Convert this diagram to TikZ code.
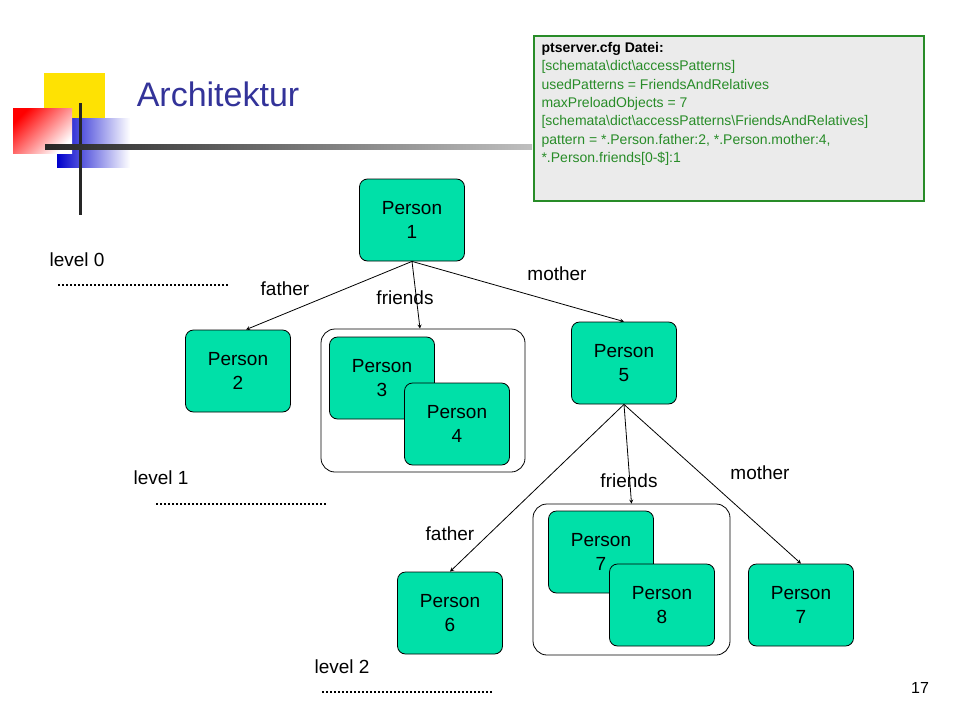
\documentclass[tikz,border=0pt]{standalone}
\usepackage{fontspec}
\setmainfont{Liberation Sans}
\usetikzlibrary{positioning}
\definecolor{pgreen}{RGB}{0,224,168}
\definecolor{titleblue}{RGB}{51,51,153}
\definecolor{cfggreen}{RGB}{40,140,40}
\definecolor{boxgray}{RGB}{235,235,235}
\tikzstyle{person}=[draw=black,thick,fill=pgreen,rounded corners=8pt,minimum width=105pt,minimum height=82pt,align=center,font=\fontsize{19}{24}\selectfont,inner sep=0pt]
\tikzstyle{group}=[draw=black,thick,rounded corners=14pt]
\tikzstyle{rel}=[->,>=stealth,thick]
\tikzstyle{lbl}=[font=\fontsize{19}{22}\selectfont]
\tikzstyle{level}=[dotted,line width=2pt]
\begin{document}
\begin{tikzpicture}[x=1pt,y=-1pt]
\useasboundingbox (0,0) rectangle (960,720);
% logo and title
\fill[yellow!85!orange] (44,73) rectangle (105,118);
\shade[left color=blue!80!black,right color=white] (57,118) rectangle (130,167);
\shade[left color=white,right color=red,shading angle=225] (13,108) rectangle (72,153);
\draw[line width=3pt,black!85] (80,103) -- (80,215);
\shade[left color=black!85,right color=black!25] (45,144) rectangle (532,149);
\node[text=titleblue,font=\fontsize{34}{40}\selectfont] (title) at (218,94) {Architektur};
% config box
\node[draw=cfggreen,line width=1.5pt,fill=boxgray,minimum width=390pt,minimum height=165pt,anchor=north west,inner sep=0pt] (cfg) at (533,35) {};
\node[anchor=north west,align=left,text=cfggreen,font=\fontsize{14}{18.3}\selectfont] (cfgtext) at (538,39)
  {\textcolor{black}{\textbf{ptserver.cfg Datei:}}\\
   {[}schemata\textbackslash dict\textbackslash accessPatterns]\\
   usedPatterns = FriendsAndRelatives\\
   maxPreloadObjects = 7\\
   {[}schemata\textbackslash dict\textbackslash accessPatterns\textbackslash FriendsAndRelatives]\\
   pattern = *.Person.father:2, *.Person.mother:4,\\
   *.Person.friends[0-\$]:1};
% groups
\node[group,minimum width=204pt,minimum height=143pt] (g1) at (423,400.5) {};
\node[group,minimum width=197pt,minimum height=151pt] (g2) at (631.5,579.5) {};
% persons
\node[person] (p1) at (412,220) {Person\\1};
\node[person] (p2) at (238,371) {Person\\2};
\node[person] (p3) at (382,378) {Person\\3};
\node[person] (p4) at (457,424) {Person\\4};
\node[person] (p5) at (624,363) {Person\\5};
\node[person] (p6) at (450,613) {Person\\6};
\node[person] (p7a) at (601,552) {Person\\7};
\node[person] (p8) at (662,605) {Person\\8};
\node[person] (p7b) at (801,605) {Person\\7};
% relations
\coordinate (f1) at ([xshift=8pt]p2.north);
\draw[rel] (p1.south) -- (f1);
\draw[rel] (p1.south) -- ([xshift=-3pt]g1.north);
\draw[rel] (p1.south) -- (p5.north);
\draw[rel] (p5.south) -- (p6.north);
\draw[rel] (p5.south) -- (g2.north);
\draw[rel] (p5.south) -- (p7b.north);
\node[lbl] (l1) at (285,289) {father};
\node[lbl] (l2) at (405,298) {friends};
\node[lbl] (l3) at (557,274) {mother};
\node[lbl] (l4) at (450,534) {father};
\node[lbl] (l5) at (629,481) {friends};
\node[lbl] (l6) at (760,473) {mother};
% levels
\node[lbl] (lv0) at (77,260) {level 0};
\node[lbl] (lv1) at (161,478) {level 1};
\node[lbl] (lv2) at (342,667) {level 2};
\coordinate (d0a) at (58,285); \coordinate (d0b) at (228,285);
\coordinate (d1a) at (156,504); \coordinate (d1b) at (327,504);
\coordinate (d2a) at (322,692); \coordinate (d2b) at (493,692);
\draw[level] (d0a) -- (d0b);
\draw[level] (d1a) -- (d1b);
\draw[level] (d2a) -- (d2b);
\node[font=\fontsize{16}{18}\selectfont] (page) at (920,688) {17};
\end{tikzpicture}
\end{document}
